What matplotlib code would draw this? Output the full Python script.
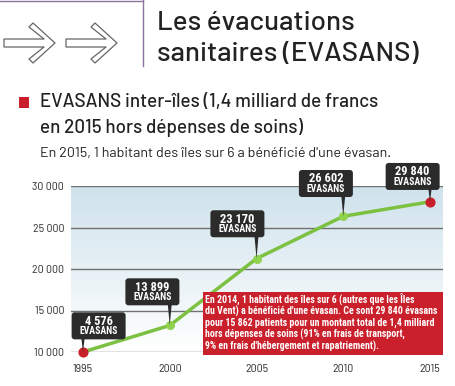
import numpy as np
import matplotlib
matplotlib.use('Agg')
import matplotlib.pyplot as plt
from matplotlib.patches import Polygon, Rectangle, FancyBboxPatch
from matplotlib.transforms import Affine2D, ScaledTranslation

W, H = 455, 386

# data (positions of the points as drawn, labels as printed)
years = [1995, 2000, 2005, 2010, 2015]
plotted = [10000, 13200, 21250, 26350, 28100]
labels = ['4 576', '13 899', '23 170', '26 602', '29 840']
box_x = [1995.9, 1999.0, 2003.9, 2009.0, 2014.0]
box_y = [13150, 17250, 25450, 30300, 31150]
yticks = [10000, 15000, 20000, 25000, 30000]
ytick_labels = ['10 000', '15 000', '20 000', '25 000', '30 000']

green = '#7cc142'
red = '#c9202b'
dark = '#2b2b2b'
cond = 'Roboto Condensed'
din = 'Barlow'


def px(x, y):
    return x / W, 1 - y / H


fig = plt.figure(figsize=(W / 100, H / 100), dpi=100)
fig.patch.set_facecolor('white')

# purple frame at top-left
fig.add_artist(plt.Line2D([0, 143 / W], [1 - 1 / H, 1 - 1 / H], color='#8f719f', lw=1))
fig.add_artist(plt.Line2D([143 / W, 143 / W], [1, 1 - 66 / H], color='#8f719f', lw=1))

# two outlined arrows
arrow = [(4, 39), (44, 39), (29, 27), (33, 23), (55, 43), (33, 63), (29, 59), (44, 47), (4, 47)]
for off in [0, 62]:
    pts = [px(x + off, y) for x, y in arrow]
    fig.add_artist(Polygon(pts, closed=True, fc='white', ec='#666666', lw=0.9,
                           joinstyle='round', transform=fig.transFigure))

fig.text(157 / W, 1 - 11 / H, 'Les évacuations\nsanitaires (EVASANS)', ha='left', va='top',
         fontsize=20, family=din, fontweight='medium', color='#222222', linespacing=1.38)

fig.add_artist(Rectangle(px(19, 108), 10 / W, 11 / H, fc=red, ec='none', transform=fig.transFigure))
fig.text(40 / W, 1 - 93 / H, 'EVASANS inter-îles (1,4 milliard de francs\nen 2015 hors dépenses de soins)',
         ha='left', va='top', fontsize=13.6, family=din, fontweight='medium', color='#222222',
         linespacing=1.44)
fig.text(40 / W, 1 - 153 / H, "En 2015, 1 habitant des îles sur 6 a bénéficié d'une évasan.",
         ha='left', va='center', fontsize=10.3, family=din, color='#222222')

# chart
l, r, t, b = 71, 443, 186, 352
ax = fig.add_axes([l / W, 1 - b / H, (r - l) / W, (b - t) / H])
ax.set_xlim(1995 - 12 / 17.35, 2015 + 13 / 17.35)
ax.set_ylim(10000, 30000)

grad = np.linspace(1, 0, 256).reshape(-1, 1)
cmap = matplotlib.colors.LinearSegmentedColormap.from_list('bg', ['#ffffff', '#cfe2ec'])
ax.imshow(grad, extent=[*ax.get_xlim(), 10000, 30000], aspect='auto', cmap=cmap, zorder=0, origin='upper')

for yv in yticks:
    ax.axhline(yv, color='#707070', lw=1, zorder=1)

ax.plot(years, plotted, color=green, lw=2.5, zorder=3, clip_on=False)
ax.scatter(years[1:4], plotted[1:4], s=30, color='#8fd34f', zorder=4)
ax.scatter([years[0], years[-1]], [plotted[0], plotted[-1]], s=40, color=red, zorder=4, clip_on=False)

for xp, yp, bx, by, lab in zip(years, plotted, box_x, box_y, labels):
    ax.add_patch(Polygon([(xp - 0.18, by), (xp + 0.18, by), (xp, yp)], closed=True,
                         fc=dark, ec='none', zorder=5, clip_on=False))
    tr = Affine2D() + ScaledTranslation(bx, by, ax.transData)
    ax.add_patch(FancyBboxPatch((-27, -13.5), 54, 27, boxstyle='round,pad=0,rounding_size=3',
                                fc=dark, ec='none', transform=tr, zorder=6, clip_on=False))
    ax.annotate(lab, (bx, by), xytext=(0, 3.4), textcoords='offset points', ha='center', va='center',
                fontsize=9, family=cond, fontweight='bold', color='white', zorder=7,
                annotation_clip=False)
    ax.annotate('EVASANS', (bx, by), xytext=(0, -3.8), textcoords='offset points', ha='center',
                va='center', fontsize=7, family=cond, fontweight='bold', color='white', zorder=7,
                annotation_clip=False)

ax.set_xticks(years)
ax.set_yticks(yticks)
ax.set_yticklabels(ytick_labels)
ax.tick_params(axis='y', length=0, labelsize=8.5, colors='#333333', pad=5)
ax.tick_params(axis='x', length=0, labelsize=8.5, colors='#333333', pad=9)
for lab in ax.get_xticklabels() + ax.get_yticklabels():
    lab.set_family('Barlow Semi Condensed')
for s in ax.spines.values():
    s.set_visible(False)

# red note box
fig.add_artist(Rectangle(px(203, 355), 240 / W, 63 / H, fc=red, ec='none',
                         transform=fig.transFigure, zorder=10))
note = ("En 2014, 1 habitant des îles sur 6 (autres que les Îles\n"
        "du Vent) a bénéficié d'une évasan. Ce sont 29 840 évasans\n"
        "pour 15 862 patients pour un montant total de 1,4 milliard\n"
        "hors dépenses de soins (91% en frais de transport,\n"
        "9% en frais d'hébergement et rapatriement).")
fig.text(205 / W, 1 - 322 / H, note, ha='left', va='center', fontsize=7.1, family=cond,
         fontweight='bold', color='white', linespacing=1.08, zorder=11)

fig.savefig('out.png', dpi=100)
